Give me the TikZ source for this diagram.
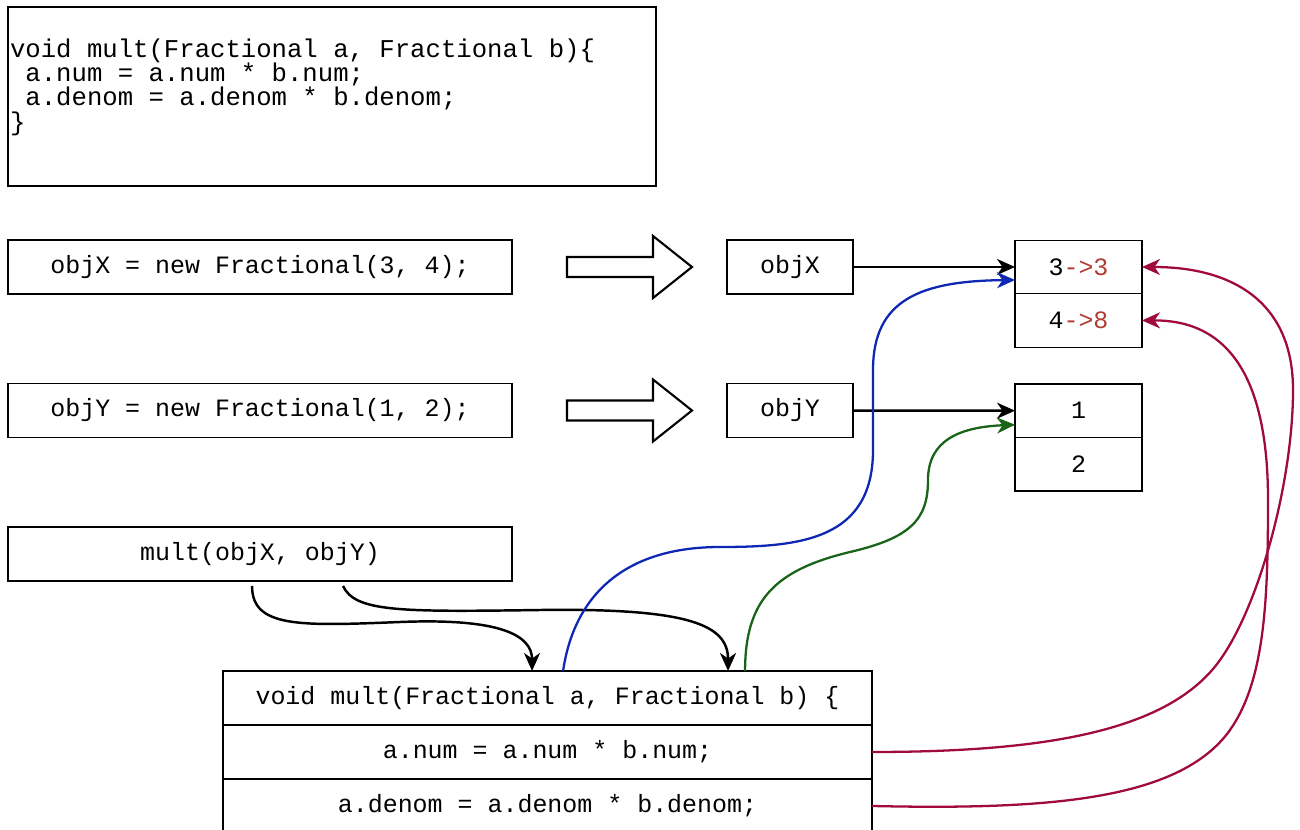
\documentclass[tikz,border=0pt]{standalone}
\usepackage{fontspec}
\setmonofont{Liberation Mono}
\usetikzlibrary{
  arrows.meta,
  calc,
  positioning,
}
\definecolor{ptrblue}{RGB}{15,40,180}
\definecolor{ptrgreen}{RGB}{25,100,25}
\definecolor{ptrred}{RGB}{160,10,60}
\definecolor{valred}{RGB}{175,60,50}
\tikzset{
  >={Stealth[length=3.6mm,width=3.2mm,inset=1.1mm]},
}

\begin{document}
\begin{tikzpicture}[
      x=0.02cm, y=-0.02cm,
      every node/.style={font=\ttfamily\fontsize{14.2}{13.8}\selectfont},
      box/.style={draw, line width=0.8pt, inner sep=0pt, outer sep=0pt},
      stmt/.style={box, minimum width=10.08cm, minimum height=1.08cm},
      ref/.style={box, minimum width=2.52cm, minimum height=1.08cm},
      cell/.style={box, minimum width=2.54cm, minimum height=1.07cm},
      line/.style={box, minimum width=12.98cm, minimum height=1.08cm},
      ptr/.style={->, line width=1.4pt},
      hollow/.style={draw, line width=1.2pt},
    ]
      \useasboundingbox (0,0) rectangle (1300,830);

      % method source
      \node [box, minimum width=12.96cm, minimum height=3.58cm, text width=12.88cm,
             inner xsep=0.04cm, align=left,
             font=\ttfamily\fontsize{14.6}{13.8}\selectfont] (code) at (332,96.5)
        {\spaceskip 0.6em\relax
         void mult(Fractional a, Fractional b)\{\\
         \hspace*{.6em}a.num = a.num * b.num;\\
         \hspace*{.6em}a.denom = a.denom * b.denom;\\
         \}\\
         \mbox{}};

      % statements
      \node [stmt] (newX) at (260,267) {objX = new Fractional(3, 4);};
      \node [stmt] (newY) at (260,410.5) {objY = new Fractional(1, 2);};
      \node [stmt] (call) at (260,554) {mult(objX, objY)};

      \foreach \y in {267,410.5}
        \draw [hollow] (567,\y-10) -- (653,\y-10) -- (653,\y-31) -- (692,\y)
                       -- (653,\y+31) -- (653,\y+10) -- (567,\y+10) -- cycle;

      % references and objects
      \node [ref] (objX) at (790,267) {objX};
      \node [ref] (objY) at (790,410.5) {objY};
      \node [cell] (x1) at (1078.5,267) {3\textcolor{valred}{->3}};
      \node [cell, below=0pt of x1] (x2) {4\textcolor{valred}{->8}};
      \node [cell] (y1) at (1078.5,410.75) {1};
      \node [cell, below=0pt of y1] (y2) {2};

      % method body
      \node [line] (hdr) at (547.5,698) {void mult(Fractional a, Fractional b) \{};
      \node [line, below=0pt of hdr] (body1) {a.num = a.num * b.num;};
      \node [line, below=0pt of body1] (body2) {a.denom = a.denom * b.denom;};

      \draw [ptr] (objX) -- (x1);
      \draw [ptr] (objY) -- (y1);

      \draw [ptr] ($(call.south west)+(244,5)$) .. controls (252,628) and (300,626) .. (400,622)
                  .. controls (500,618) and (532,635) .. ($(hdr.north west)+(309,0)$);
      \draw [ptr] ($(call.south west)+(335,5)$) .. controls (355,612) and (400,612) .. (540,610)
                  .. controls (690,608) and (728,625) .. ($(hdr.north west)+(505,0)$);

      \draw [ptr, line width=1.3pt, ptrblue] ($(hdr.north west)+(340,0)$) .. controls (575,590) and (630,547) .. (720,547)
                  .. controls (800,547) and (873,540) .. (873,450) -- (873,370)
                  .. controls (873,300) and (920,281) .. ($(x1.west)+(0,13)$);
      \draw [ptr, line width=1.3pt, ptrgreen] ($(hdr.north west)+(522,0)$) .. controls (745,600) and (775,570) .. (850,552)
                  .. controls (910,538) and (928,520) .. (928,480)
                  .. controls (928,440) and (960,427) .. ($(y1.west)+(0,14)$);

      \draw [ptr, line width=1.3pt, ptrred] (body1.east) .. controls (1050,752) and (1170,730) .. (1220,660)
                  .. controls (1260,604) and (1293,480) .. (1293,390)
                  .. controls (1293,300) and (1230,267) .. (x1.east);
      \draw [ptr, line width=1.3pt, ptrred] (body2.east) .. controls (1050,810) and (1180,800) .. (1230,730)
                  .. controls (1265,680) and (1268,600) .. (1268,500)
                  .. controls (1268,380) and (1230,320) .. (x2.east);
    \end{tikzpicture}
\end{document}
